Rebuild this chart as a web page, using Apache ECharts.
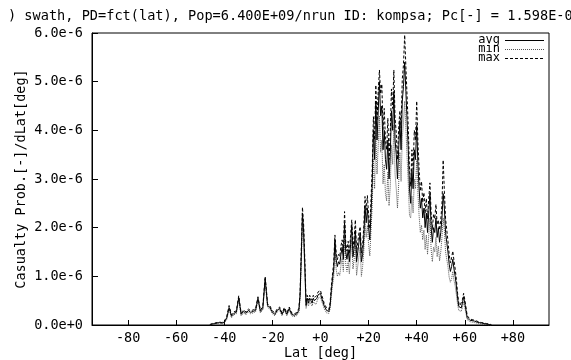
<!DOCTYPE html>
<html>
<head>
<meta charset="utf-8">
<script src="https://cdn.jsdelivr.net/npm/echarts@6/dist/echarts.min.js"></script>
<style>html,body{margin:0;padding:0;background:#fff}#c{width:571px;height:360px}</style>
</head>
<body>
<div id="c"></div>
<script>
// latitude grid [deg]
var lat = [
-46,-45,-44,-43,-42,-41,-40,-39,-38,-37,
-36,-35,-34,-33,-32,-31,-30,-29,-28,-27,
-26,-25,-24,-23,-22,-21,-20,-19,-18,-17,
-16,-15,-14,-13,-12,-11,-10,-9,-8.5,-8,
-7.5,-7,-6.5,-6,-5.5,-5,-4.5,-4,-3.5,-3,
-2.5,-2,-1.5,-1,-0.5,0,0.5,1,1.5,2,
2.5,3,3.5,4,4.5,5,5.5,6,6.5,7,
7.5,8,8.5,9,9.5,10,10.5,11,11.5,12,
12.5,13,13.5,14,14.5,15,15.5,16,16.5,17,
17.5,18,18.5,19,19.5,20,20.5,21,21.5,22,
22.5,23,23.5,24,24.5,25,25.5,26,26.5,27,
27.5,28,28.5,29,29.5,30,30.5,31,31.5,32,
32.5,33,33.5,34,34.5,35,35.5,36,36.5,37,
37.5,38,38.5,39,39.5,40,40.5,41,41.5,42,
42.5,43,43.5,44,44.5,45,45.5,46,46.5,47,
47.5,48,48.5,49,49.5,50,50.5,51,51.5,52,
52.5,53,53.5,54,54.5,55,55.5,56,56.5,57,
57.5,58,58.5,59,59.5,60,61,62,63,64,
65,66,67,68,69,70,71
];
// values in units of 1e-6
var avgE6 = [
0,0.02,0.03,0.04,0.05,0.04,0.06,0.14,0.36,0.18,
0.24,0.26,0.56,0.22,0.28,0.24,0.30,0.26,0.28,0.30,
0.55,0.28,0.34,0.95,0.40,0.36,0.26,0.22,0.30,0.34,
0.22,0.33,0.22,0.34,0.22,0.20,0.22,0.30,0.60,1.40,
2.30,1.90,1.20,0.40,0.55,0.45,0.55,0.50,0.45,0.55,
0.50,0.48,0.55,0.62,0.58,0.65,0.55,0.48,0.40,0.35,
0.30,0.32,0.28,0.40,0.70,0.95,1.15,1.75,1.35,1.20,
1.30,1.25,1.45,1.60,1.35,2.10,1.50,1.35,1.55,1.30,
1.65,2.05,1.40,1.60,1.95,1.30,1.50,1.70,1.90,1.30,
1.45,1.80,2.45,2.10,2.40,2.00,1.75,2.30,2.90,4.00,
3.40,4.60,3.80,4.40,5.00,4.30,4.50,3.60,4.00,3.40,
3.20,3.80,3.00,3.50,4.40,4.00,4.80,3.80,3.50,3.00,
3.60,4.20,3.60,4.60,4.90,5.40,4.80,4.20,3.60,2.80,
2.50,3.20,2.80,3.60,3.40,4.10,3.30,2.80,2.40,2.60,
2.20,2.40,2.00,2.30,1.90,2.30,2.70,2.00,1.70,2.00,
1.90,2.20,1.80,2.00,1.70,1.90,2.20,2.70,2.40,1.90,
1.70,1.50,1.25,1.10,1.20,1.35,1.15,1.00,0.80,0.55,
0.38,0.34,0.35,0.45,0.58,0.45,0.15,0.10,0.09,0.08,
0.06,0.05,0.04,0.03,0.02,0.01,0
];
var minE6 = [
0,0.01,0.02,0.03,0.04,0.03,0.04,0.11,0.32,0.15,
0.21,0.23,0.52,0.19,0.25,0.21,0.27,0.23,0.25,0.27,
0.51,0.25,0.31,0.90,0.36,0.33,0.23,0.19,0.27,0.31,
0.19,0.30,0.19,0.31,0.19,0.17,0.19,0.26,0.54,1.25,
2.12,1.72,1.05,0.34,0.48,0.39,0.48,0.44,0.39,0.48,
0.44,0.42,0.48,0.55,0.51,0.58,0.48,0.42,0.34,0.30,
0.25,0.27,0.24,0.34,0.60,0.82,0.98,1.55,1.15,1.00,
1.08,1.02,1.22,1.38,1.10,1.82,1.25,1.10,1.30,1.05,
1.40,1.75,1.15,1.35,1.65,1.02,1.22,1.42,1.60,1.00,
1.20,1.52,2.10,1.80,2.05,1.65,1.42,1.95,2.45,3.40,
2.80,3.95,3.10,3.70,4.30,3.55,3.80,2.90,3.30,2.70,
2.55,3.15,2.45,2.85,3.70,3.30,4.10,3.10,2.80,2.40,
2.90,3.55,2.95,3.85,4.15,4.60,4.05,3.45,2.90,2.25,
2.20,2.65,2.30,3.00,2.80,3.40,2.70,2.25,1.90,2.05,
1.75,1.95,1.55,1.85,1.45,1.85,2.20,1.55,1.30,1.60,
1.50,1.80,1.40,1.62,1.32,1.50,1.80,2.20,1.95,1.50,
1.35,1.20,0.98,0.88,0.95,1.10,0.92,0.80,0.62,0.42,
0.30,0.27,0.28,0.36,0.48,0.36,0.11,0.07,0.06,0.05,
0.04,0.03,0.02,0.01,0.01,0,0
];
var maxE6 = [
0.01,0.03,0.04,0.05,0.06,0.05,0.08,0.17,0.40,0.21,
0.27,0.29,0.60,0.25,0.31,0.27,0.33,0.29,0.31,0.33,
0.58,0.31,0.37,1.00,0.44,0.39,0.29,0.25,0.33,0.37,
0.25,0.36,0.25,0.37,0.25,0.23,0.25,0.34,0.66,1.55,
2.42,2.05,1.32,0.46,0.61,0.51,0.61,0.56,0.51,0.61,
0.56,0.54,0.61,0.68,0.64,0.71,0.61,0.54,0.45,0.40,
0.35,0.37,0.32,0.46,0.80,1.05,1.28,1.85,1.50,1.34,
1.45,1.40,1.62,1.75,1.52,2.33,1.68,1.52,1.72,1.46,
1.84,2.16,1.58,1.80,2.16,1.48,1.70,1.90,2.02,1.48,
1.64,2.02,2.64,2.36,2.66,2.25,1.98,2.58,3.20,4.28,
3.80,4.93,4.20,4.80,5.24,4.75,4.95,4.00,4.45,3.80,
3.60,4.25,3.40,3.95,4.85,4.45,5.24,4.25,3.95,3.40,
4.05,4.40,4.05,5.05,5.35,5.96,5.30,4.70,4.05,3.20,
2.85,3.60,3.20,4.00,3.80,4.60,3.75,3.20,2.75,2.95,
2.52,2.72,2.30,2.60,2.18,2.60,2.92,2.30,1.96,2.28,
2.18,2.48,2.06,2.16,1.95,2.16,2.48,3.39,2.75,2.18,
1.95,1.72,1.45,1.28,1.38,1.52,1.32,1.15,0.93,0.65,
0.45,0.40,0.41,0.52,0.65,0.52,0.19,0.13,0.11,0.10,
0.08,0.06,0.05,0.04,0.03,0.02,0.01
];
var xTicks = [-80,-60,-40,-20,0,20,40,60,80];
var seriesNames = ['avg','min','max'];
var titleText = ') swath, PD=fct(lat), Pop=6.400E+09/nrun ID: kompsa; Pc[-] = 1.598E-06';

function pairs(v){ return lat.map(function(l,i){ return [l, v[i]]; }); }
var FONT = 'DejaVu Sans Mono';
var styles = {
  avg:{color:'#000', type:'solid'},
  min:{color:'#555', type:[1,1]},
  max:{color:'#000', type:[3,2]}
};
// manual legend (text left of line sample)
var legendGraphics = [];
seriesNames.forEach(function(n, i){
  var y = 40 + i*9;
  legendGraphics.push({type:'text', x:500, y:y,
    style:{text:n, fill:'#000', font:'12px "'+FONT+'"', textAlign:'right', textVerticalAlign:'middle'}});
  legendGraphics.push({type:'line', shape:{x1:505, y1:y+0.5, x2:544, y2:y+0.5},
    style:{stroke:styles[n].color, lineWidth:1, lineDash: styles[n].type==='solid' ? null : styles[n].type}});
});

var chart = echarts.init(document.getElementById('c'), null, {renderer:'canvas'});
chart.setOption({
  animation:false,
  backgroundColor:'#fff',
  title:{text:titleText, left:3, top:4,
    textStyle:{fontFamily:FONT, fontSize:13.6, fontWeight:'normal', color:'#000'}},
  grid:{left:92, right:22, top:33, bottom:35, show:true, borderColor:'#000', borderWidth:1,
    containLabel:false, outerBoundsMode:'none'},
  graphic:legendGraphics,
  xAxis:{type:'value', min:-95, max:95,
    name:'Lat [deg]', nameLocation:'middle', nameGap:21, nameMoveOverlap:false,
    nameTextStyle:{fontFamily:FONT, fontSize:13.5, color:'#000'},
    axisLine:{show:true, onZero:false, lineStyle:{color:'#000'}},
    axisTick:{show:true, inside:true, length:5, customValues:xTicks, lineStyle:{color:'#000'}},
    axisLabel:{customValues:xTicks, fontFamily:FONT, fontSize:13.5, color:'#000', margin:6,
      formatter:function(v){ return v>=0 ? '+'+v : String(v); }},
    splitLine:{show:false}},
  yAxis:{type:'value', min:0, max:6, interval:1,
    name:'Casualty Prob.[-]/dLat[deg]', nameLocation:'middle', nameGap:64, nameRotate:90, nameMoveOverlap:false,
    nameTextStyle:{fontFamily:FONT, fontSize:13.5, color:'#000'},
    axisLine:{show:true, onZero:false, lineStyle:{color:'#000'}},
    axisTick:{show:true, inside:true, length:6, lineStyle:{color:'#000'}},
    axisLabel:{fontFamily:FONT, fontSize:13.5, color:'#000', margin:9,
      formatter:function(v){ return v===0 ? '0.0e+0' : v.toFixed(1)+'e-6'; }},
    splitLine:{show:false}},
  series:[
    {name:'max', type:'line', data:pairs(maxE6), symbol:'none', z:2,
      lineStyle:{color:styles.max.color, width:1, type:styles.max.type}},
    {name:'min', type:'line', data:pairs(minE6), symbol:'none', z:3,
      lineStyle:{color:styles.min.color, width:1, type:styles.min.type}},
    {name:'avg', type:'line', data:pairs(avgE6), symbol:'none', z:4,
      lineStyle:{color:styles.avg.color, width:1, type:styles.avg.type}}
  ]
});
</script>
</body>
</html>
